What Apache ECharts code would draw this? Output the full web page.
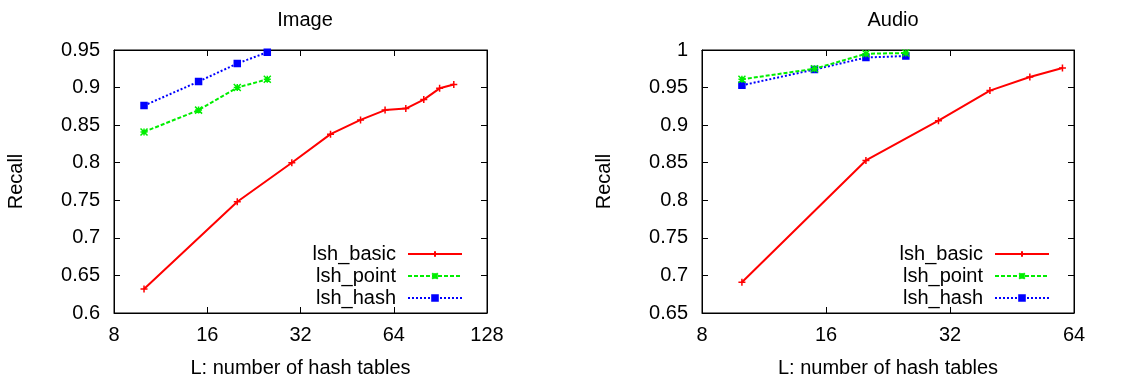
<!DOCTYPE html>
<html>
<head>
<meta charset="utf-8">
<script src="https://cdn.jsdelivr.net/npm/echarts@6/dist/echarts.min.js"></script>
<style>
html,body{margin:0;padding:0;background:#fff;}
#c{width:1133px;height:386px;}
</style>
</head>
<body>
<div id="c"></div>
<script>
// ---- data ----
const panelTitles = ['Image', 'Audio'];
const seriesNames = ['lsh_basic', 'lsh_point', 'lsh_hash'];
const xTicksImage = [8, 16, 32, 64, 128];
const xTicksAudio = [8, 16, 32, 64];

const imageBasicL = [10, 20, 30, 40, 50, 60, 70, 80, 90, 100];
const imageBasic  = [0.632, 0.748, 0.800, 0.838, 0.857, 0.870, 0.872, 0.884, 0.899, 0.904];
const imagePointL = [10, 15, 20, 25];
const imagePoint  = [0.841, 0.870, 0.900, 0.911];
const imageHashL  = [10, 15, 20, 25];
const imageHash   = [0.876, 0.908, 0.932, 0.947];

const audioBasicL = [10, 20, 30, 40, 50, 60];
const audioBasic  = [0.691, 0.853, 0.906, 0.946, 0.964, 0.976];
const audioPointL = [10, 15, 20, 25];
const audioPoint  = [0.961, 0.975, 0.995, 0.996];
const audioHashL  = [10, 15, 20, 25];
const audioHash   = [0.953, 0.974, 0.990, 0.992];

// ---- styling ----
const FONT = 'Liberation Sans, Arial, sans-serif';
const FS = 20;
const colors = ['#ff0000', '#00ee00', '#0000ff'];
const symbols = [
  'path://M0,5L10,5M5,0L5,10',
  'path://M0,0L10,10M10,0L0,10M5,0L5,10M0,5L10,5',
  'path://M0,0L10,0L10,10L0,10Z'
];
const lineTypes = ['solid', [4, 2], [2, 2]];

function zip(xs, ys) { return xs.map((x, i) => [x, ys[i]]); }

const grids = [
  { left: 114, right: 646, top: 50, bottom: 73 },
  { left: 702, right: 59, top: 50, bottom: 73 }
].map(g => Object.assign(g, { show: true, borderColor: '#000', borderWidth: 1, backgroundColor: 'transparent' }));

function xAxes(gi, max) {
  return [
    {
      type: 'log', logBase: 2, min: 8, max: max, gridIndex: gi, position: 'bottom',
      name: 'L: number of hash tables', nameLocation: 'middle', nameGap: 45,
      nameTextStyle: { fontFamily: FONT, fontSize: FS, color: '#000' },
      axisLine: { lineStyle: { color: '#000' } },
      axisTick: { inside: true, length: 6, lineStyle: { color: '#000' } },
      minorTick: { show: false },
      axisLabel: { fontFamily: FONT, fontSize: FS, color: '#000', margin: 12 },
      splitLine: { show: false }
    },
    {
      type: 'log', logBase: 2, min: 8, max: max, gridIndex: gi, position: 'top',
      axisLine: { lineStyle: { color: '#000' } },
      axisTick: { inside: true, length: 6, lineStyle: { color: '#000' } },
      axisLabel: { show: false },
      splitLine: { show: false }
    }
  ];
}

function yAxes(gi, min, max) {
  return [
    {
      type: 'value', min: min, max: max, interval: 0.05, gridIndex: gi, position: 'left',
      name: 'Recall', nameLocation: 'middle', nameGap: 88,
      nameTextStyle: { fontFamily: FONT, fontSize: FS, color: '#000' },
      axisLine: { show: true, lineStyle: { color: '#000' } },
      axisTick: { show: true, inside: true, length: 6, lineStyle: { color: '#000' } },
      axisLabel: { fontFamily: FONT, fontSize: FS, color: '#000', margin: 14,
        formatter: v => String(Math.round(v * 100) / 100) },
      splitLine: { show: false }
    },
    {
      type: 'value', min: min, max: max, interval: 0.05, gridIndex: gi, position: 'right',
      axisLine: { show: true, lineStyle: { color: '#000' } },
      axisTick: { show: true, inside: true, length: 6, lineStyle: { color: '#000' } },
      axisLabel: { show: false },
      splitLine: { show: false }
    }
  ];
}

function mkSeries(k, data, xi, yi) {
  return {
    name: seriesNames[k], type: 'line', data: data,
    xAxisIndex: xi, yAxisIndex: yi,
    symbol: symbols[k], symbolSize: k === 2 ? 6 : 7,
    showAllSymbol: true,
    lineStyle: { color: colors[k], width: 2, type: lineTypes[k] },
    itemStyle: { color: k === 2 ? colors[k] : 'transparent', borderColor: colors[k], borderWidth: 1.5 },
    emphasis: { disabled: true },
    animation: false,
    z: 10 - k
  };
}

function mkLegend(right) {
  return {
    orient: 'vertical', right: right, top: 243, align: 'right', padding: 0,
    itemWidth: 54, itemHeight: 7, itemGap: 0,
    data: seriesNames,
    textStyle: { fontFamily: FONT, fontSize: 20, color: '#000', lineHeight: 22, padding: [0, 7, 0, 0] },
    selectedMode: false
  };
}

const option = {
  backgroundColor: '#fff',
  animation: false,
  title: [
    { text: panelTitles[0], left: 300, top: 5, textAlign: 'center',
      textStyle: { fontFamily: FONT, fontSize: FS, fontWeight: 'normal', color: '#000' } },
    { text: panelTitles[1], left: 888, top: 5, textAlign: 'center',
      textStyle: { fontFamily: FONT, fontSize: FS, fontWeight: 'normal', color: '#000' } }
  ],
  legend: [mkLegend(670), mkLegend(83)],
  grid: grids,
  xAxis: xAxes(0, 128).concat(xAxes(1, 64)),
  yAxis: yAxes(0, 0.6, 0.95).concat(yAxes(1, 0.65, 1)),
  series: [
    mkSeries(0, zip(imageBasicL, imageBasic), 0, 0),
    mkSeries(1, zip(imagePointL, imagePoint), 0, 0),
    mkSeries(2, zip(imageHashL, imageHash), 0, 0),
    mkSeries(0, zip(audioBasicL, audioBasic), 2, 2),
    mkSeries(1, zip(audioPointL, audioPoint), 2, 2),
    mkSeries(2, zip(audioHashL, audioHash), 2, 2)
  ]
};

const chart = echarts.init(document.getElementById('c'), null, { renderer: 'canvas' });
chart.setOption(option);
</script>
</body>
</html>
